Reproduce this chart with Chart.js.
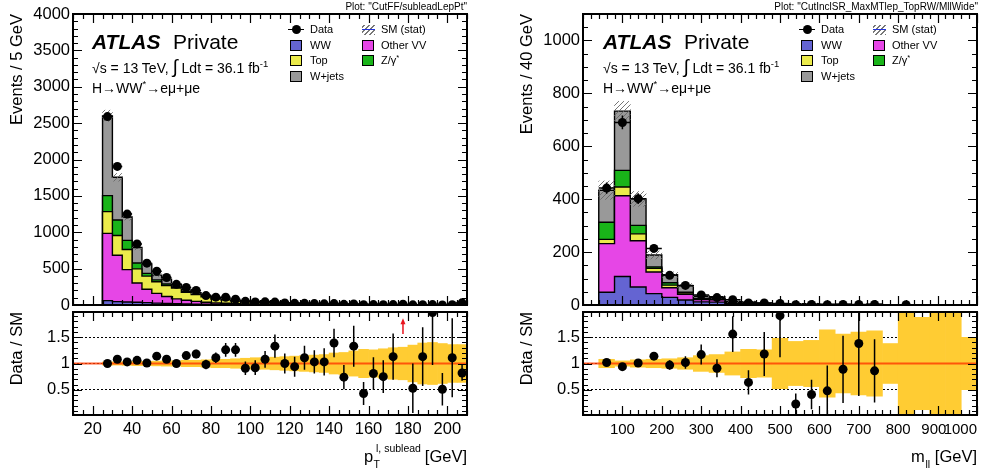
<!DOCTYPE html>
<html>
<head>
<meta charset="utf-8">
<title>H→WW* control plots</title>
<script src="https://cdn.jsdelivr.net/npm/chart.js@4.4.1/dist/chart.umd.min.js"></script>
<style>
  html, body { margin: 0; padding: 0; background: #fff; }
  #page { position: relative; width: 993px; height: 475px; overflow: hidden;
          font-family: "Liberation Sans", Arial, Helvetica, sans-serif; color: #000; }
  #page canvas { position: absolute; }
  .txt { position: absolute; white-space: nowrap; line-height: 1; }
  .sup { font-size: 0.68em; vertical-align: 0.6em; line-height: 0; }
  .box { position: absolute; width: 12px; height: 11px; border: 1px solid #000; box-sizing: border-box; }
</style>
</head>
<body>
<div id="page">
  <canvas id="mainL" width="480" height="310" style="left:0;top:0"></canvas>
  <canvas id="ratioL" width="480" height="165" style="left:0;top:310px"></canvas>
  <canvas id="mainR" width="480" height="310" style="left:510px;top:0"></canvas>
  <canvas id="ratioR" width="480" height="165" style="left:510px;top:310px"></canvas>
</div>
<script>
// ---------- subleading lepton pT, 5 GeV bins (last bin holds the overflow) ----------
const ptBinLow = [25, 30, 35, 40, 45, 50, 55, 60, 65, 70, 75, 80, 85, 90, 95, 100, 105, 110, 115, 120,
                  125, 130, 135, 140, 145, 150, 155, 160, 165, 170, 175, 180, 185, 190, 195, 200, 205];
const ptBinWidth = 5;
const ptWW      = [60, 46, 41, 37, 32, 26, 22, 18, 15, 12, 10, 8, 7, 5, 4, 4, 3, 3, 2, 2,
                   2, 2, 1, 1, 1, 1, 0.8, 0.7, 0.6, 0.5, 0.5, 0.4, 0.4, 0.3, 0.3, 0.3, 3];
const ptOtherVV = [925, 637, 445, 265, 185, 134, 95, 66, 50, 38, 28, 20, 17, 12, 10, 8, 7, 5, 5, 4,
                   4, 3, 3, 3, 2, 2, 1.7, 1.5, 1.3, 1.1, 1, 0.9, 0.8, 0.7, 0.6, 0.5, 8];
const ptTop     = [298, 272, 277, 195, 180, 160, 150, 150, 110, 92, 75, 55, 48, 37, 33, 27, 24, 18, 16, 15,
                   12, 10, 9, 8, 7, 6, 5, 4.3, 3.8, 3.3, 2.8, 2.5, 2.2, 1.9, 1.7, 1.5, 20];
const ptZgamma  = [220, 213, 126, 80, 38, 25, 22, 14, 10, 8, 6, 4, 4, 3, 3, 3, 2, 2, 2, 1,
                   1, 1, 1, 1, 1, 0.5, 0.5, 0.5, 0.4, 0.4, 0.3, 0.3, 0.2, 0.2, 0.2, 0.2, 2];
const ptWjets   = [1097, 587, 321, 213, 130, 65, 61, 36, 25, 18, 13, 10, 8, 6, 5, 4, 4, 2, 2, 2,
                   2, 2, 2, 1, 1, 0.5, 0.5, 0.5, 0.4, 0.3, 0.3, 0.2, 0.2, 0.2, 0.1, 0.1, 3];
const ptData    = [2590, 1905, 1250, 840, 575, 465, 378, 284, 242, 200, 129, 108, 106, 79, 50, 42, 43, 40, 27, 23,
                   23, 19, 16, 19, 9, 13, 4, 6, 5, 6, 11, 2, 4, 6, 1, 3, 30];
const ptDataErr = [51, 44, 35, 29, 24, 22, 19, 17, 16, 14, 11, 10, 10, 9, 7, 6, 7, 6, 5, 5,
                   5, 4, 4, 4, 3, 4, 2, 2, 2, 2, 3, 1, 2, 2, 1, 2, 5];
const ptRatio    = [1.00, 1.08, 1.03, 1.06, 1.01, 1.14, 1.08, 1.00, 1.15, 1.18, 0.98, 1.11, 1.26, 1.26, 0.91, 0.92, 1.08, 1.33, 1.00, 0.94,
                    1.11, 1.03, 1.03, 1.39, 0.74, 1.33, 0.43, 0.81, 0.75, 1.13, null, 0.53, 1.13, 1.97, 0.51, 1.11, 0.82];
const ptRatioErr = [0.02, 0.03, 0.03, 0.04, 0.04, 0.05, 0.06, 0.06, 0.07, 0.08, 0.09, 0.10, 0.13, 0.13, 0.13, 0.14, 0.16, 0.22, 0.19, 0.19,
                    0.23, 0.22, 0.26, 0.27, 0.23, 0.39, 0.22, 0.31, 0.31, 0.44, null, 0.47, 0.56, 1.0, 0.31, 0.75, 0.15];
const ptStatBand = [0.03, 0.03, 0.035, 0.04, 0.04, 0.045, 0.05, 0.05, 0.06, 0.06, 0.07, 0.08, 0.08, 0.09, 0.10, 0.11, 0.11, 0.12, 0.13, 0.14,
                    0.15, 0.16, 0.17, 0.20, 0.21, 0.24, 0.27, 0.26, 0.28, 0.30, 0.31, 0.35, 0.39, 0.40, 0.38, 0.36, 0.36];
const ptOffScale = [177.5];   // ratio above the panel, drawn as an arrow
const ptTicks    = [20, 40, 60, 80, 100, 120, 140, 160, 180, 200];
const ptEvtTicks = [0, 500, 1000, 1500, 2000, 2500, 3000, 3500, 4000];

// ---------- dilepton mass, 40 GeV bins ----------
const mllBinLow = [40, 80, 120, 160, 200, 240, 280, 320, 360, 400, 440, 480, 520, 560, 600, 640, 680, 720, 760, 800,
                   840, 880, 920, 960];
const mllBinWidth = 40;
const mllWW      = [48, 108, 68, 43, 29, 19, 12, 11, 5, 4.5, 2.5, 1.2, 1.6, 1.8, 0.8, 0.8, 0.6, 0.9, 0.5, 0, 0, 0, 0, 0];
const mllOtherVV = [184, 305, 175, 82, 36, 21, 9, 9, 4, 3.5, 2, 0.9, 1.3, 1.5, 0.6, 0.7, 0.4, 0.7, 0.4, 0, 0, 0, 0, 0];
const mllTop     = [16, 33, 26, 14, 10, 5, 3, 3, 1.5, 1.5, 0.8, 0.4, 0.6, 0.7, 0.3, 0.3, 0.2, 0.3, 0.1, 0, 0, 0, 0, 0];
const mllZgamma  = [65, 63, 32, 5, 9, 3, 1, 1, 0.5, 0.5, 0.4, 0.2, 0.3, 0.3, 0.1, 0.1, 0.1, 0.1, 0.1, 0, 0, 0, 0, 0];
const mllWjets   = [121, 224, 100, 45, 31, 25, 8, 7, 2, 2, 1, 0.4, 0.5, 0.6, 0.3, 0.3, 0.15, 0.3, 0.1, 0, 0, 0, 0, 0];
const mllData    = [442, 690, 402, 214, 112, 74, 38, 28, 20, 8, 8, 6, 1, 2, 1, 2, 2, 2, null, 1, null, null, null, null];
const mllDataErr = [21, 26, 20, 15, 11, 9, 6, 5, 4.5, 3, 3, 2.5, 1, 1.4, 1, 1.4, 1.4, 1.4, null, 1, null, null, null, null];
const mllRatio    = [1.02, 0.94, 1.01, 1.14, 0.97, 1.02, 1.17, 0.91, 1.56, 0.64, 1.18, 1.91, 0.23, 0.41, 0.48, 0.89, 1.38, 0.86,
                     null, null, null, null, null, null];
const mllRatioErr = [0.04, 0.04, 0.05, 0.07, 0.09, 0.12, 0.19, 0.17, 0.34, 0.23, 0.42, 0.79, 0.20, 0.28, 0.48, 0.64, 1.0, 0.60,
                     null, null, null, null, null, null];
const mllStatBand = [0.08, 0.05, 0.07, 0.08, 0.09, 0.11, 0.15, 0.17, 0.22, 0.27, 0.26, 0.48, 0.42, 0.44, 0.64, 0.56, 0.60, 0.62, 0.38, 1.0,
                     0.88, 1.0, 1.0, 0.5];
const mllTicks    = [100, 200, 300, 400, 500, 600, 700, 800, 900, 1000];
const mllEvtTicks = [0, 200, 400, 600, 800, 1000];

const ratioTicks = [0.5, 1, 1.5];

// process colours, bottom of the stack first
const COL = { WW: '#6464d2', OtherVV: '#e646e6', Top: '#ebeb4b', Zgamma: '#19b419', Wjets: '#999999' };
const BAND = '#ffcc33';
const FONT = '"Liberation Sans", Arial, Helvetica, sans-serif';
const TICK_FONT = { family: FONT, size: 16.5 };

Chart.defaults.font.family = FONT;
Chart.defaults.color = '#000';

// diagonal hatching for the MC stat. uncertainty
function hatchPattern() {
  const c = document.createElement('canvas');
  c.width = 5; c.height = 5;
  const g = c.getContext('2d');
  g.strokeStyle = '#666';
  g.lineWidth = 0.9;
  g.beginPath();
  g.moveTo(0, 5); g.lineTo(5, 0);
  g.moveTo(-2.5, 2.5); g.lineTo(2.5, -2.5);
  g.moveTo(2.5, 7.5); g.lineTo(7.5, 2.5);
  g.stroke();
  return g.createPattern(c, 'repeat');
}
const HATCH = hatchPattern();

// ATLAS style frame: thick box with inward ticks on all four sides
const atlasFrame = {
  id: 'atlasFrame',
  afterDraw(chart, args, o) {
    const { ctx, chartArea: a, scales: { x, y } } = chart;
    const minorVals = (scale, step) => {
      const out = [];
      const k0 = Math.ceil(scale.min / step - 1e-6), k1 = Math.floor(scale.max / step + 1e-6);
      for (let k = k0; k <= k1; k++) out.push(k * step);
      return out;
    };
    ctx.save();
    ctx.strokeStyle = '#000';
    ctx.lineWidth = 1.2;
    ctx.beginPath();
    const xt = (vals, len) => vals.forEach(v => {
      const px = Math.round(x.getPixelForValue(v)) + 0.5;
      ctx.moveTo(px, a.bottom); ctx.lineTo(px, a.bottom - len);
      ctx.moveTo(px, a.top); ctx.lineTo(px, a.top + len);
    });
    const yt = (vals, len) => vals.forEach(v => {
      const py = Math.round(y.getPixelForValue(v)) + 0.5;
      ctx.moveTo(a.left, py); ctx.lineTo(a.left + len, py);
      ctx.moveTo(a.right, py); ctx.lineTo(a.right - len, py);
    });
    xt(minorVals(x, o.xMinor), 5);
    xt(o.xMajor, 9);
    yt(minorVals(y, o.yMinor), 5);
    yt(o.yMajor, 9);
    ctx.stroke();
    ctx.lineWidth = 2;
    ctx.strokeRect(a.left, a.top, a.right - a.left, a.bottom - a.top);
    ctx.restore();
  }
};

// vertical (and optional horizontal) error bars, drawn just under the markers
const errorBars = {
  id: 'errorBars',
  beforeDatasetDraw(chart, args) {
    const ds = chart.data.datasets[args.index];
    if (!ds.yErr) return;
    const { ctx, chartArea: a, scales: { x, y } } = chart;
    ctx.save();
    ctx.beginPath();
    ctx.rect(a.left, a.top, a.right - a.left, a.bottom - a.top);
    ctx.clip();
    ctx.strokeStyle = '#000';
    ctx.lineWidth = 1.5;
    ctx.beginPath();
    ds.data.forEach((p, i) => {
      if (p.y == null || ds.yErr[i] == null) return;
      const px = x.getPixelForValue(p.x), py = y.getPixelForValue(p.y);
      ctx.moveTo(px, y.getPixelForValue(p.y - ds.yErr[i]));
      ctx.lineTo(px, y.getPixelForValue(p.y + ds.yErr[i]));
      if (ds.xErr) {
        ctx.moveTo(x.getPixelForValue(p.x - ds.xErr), py);
        ctx.lineTo(x.getPixelForValue(p.x + ds.xErr), py);
      }
    });
    ctx.stroke();
    ctx.restore();
  }
};

// red arrows for ratio points above the panel
const overflowArrows = {
  id: 'overflowArrows',
  afterDatasetsDraw(chart, args, o) {
    if (!o.at || !o.at.length) return;
    const { ctx, scales: { x, y } } = chart;
    ctx.save();
    ctx.strokeStyle = ctx.fillStyle = '#e8141e';
    ctx.lineWidth = 1.5;
    o.at.forEach(v => {
      const px = x.getPixelForValue(v);
      const y0 = y.getPixelForValue(o.from), y1 = y.getPixelForValue(o.to);
      ctx.beginPath(); ctx.moveTo(px, y0); ctx.lineTo(px, y1 + 4); ctx.stroke();
      ctx.beginPath(); ctx.moveTo(px, y1); ctx.lineTo(px - 2.5, y1 + 6); ctx.lineTo(px + 2.5, y1 + 6);
      ctx.closePath(); ctx.fill();
    });
    ctx.restore();
  }
};

// keep the plot frame where the layout padding puts it
function noOverhang(s) {
  s.paddingTop = 0; s.paddingBottom = 0; s.paddingLeft = 0; s.paddingRight = 0;
}

// cumulative step outlines, one filled line per process
function stackDatasets(low, width, comps) {
  const sums = low.map(() => 0);
  const end = low[low.length - 1] + width;
  return comps.map(([label, vals, colour]) => {
    vals.forEach((v, i) => { sums[i] += v; });
    const pts = [{ x: low[0], y: 0 }];
    low.forEach((lo, i) => pts.push({ x: lo, y: sums[i] }));
    pts.push({ x: end, y: sums[sums.length - 1] }, { x: end, y: 0 });
    return {
      type: 'line', label, data: pts, stepped: true, fill: 'origin',
      backgroundColor: colour, borderColor: '#000', borderWidth: 1.4,
      pointRadius: 0, order: 5
    };
  });
}

function statHatch(low, width, comps, band) {
  return {
    type: 'bar', label: 'SM (stat)',
    data: low.map((lo, i) => {
      const t = comps.reduce((s, c) => s + c[1][i], 0);
      return { x: lo + width / 2, y: [t * (1 - band[i]), t * (1 + band[i])] };
    }),
    backgroundColor: HATCH, borderWidth: 0, barPercentage: 1, categoryPercentage: 1, order: 2
  };
}

function dataPoints(low, width, vals, errs, withX) {
  return {
    type: 'scatter', label: 'Data',
    data: low.map((lo, i) => ({ x: lo + width / 2, y: vals[i] })),
    yErr: errs, xErr: withX ? width / 2 : 0,
    pointRadius: 4.5, pointBackgroundColor: '#000', pointBorderWidth: 0, order: 1
  };
}

function yAxis(min, max, ticks, title) {
  return {
    type: 'linear', min, max,
    afterFit(s) { s.width = 73; noOverhang(s); },
    afterBuildTicks(s) { s.ticks = ticks.map(v => ({ value: v })); },
    grid: { display: false, drawTicks: false },
    border: { display: false },
    ticks: { font: TICK_FONT, color: '#000', padding: 3, callback: v => String(v) },
    title: { display: true, text: title, align: 'end', font: TICK_FONT, color: '#000', padding: { top: 8, bottom: 0 } }
  };
}

function mainChart(id, low, width, comps, band, data, dataErr, xMin, xMax, yMax, evtTicks, yTitle, xTicks, xMinor, yMinor) {
  new Chart(document.getElementById(id), {
    type: 'line',
    data: {
      datasets: [
        ...stackDatasets(low, width, comps),
        statHatch(low, width, comps, band),
        dataPoints(low, width, data, dataErr, true)
      ]
    },
    options: {
      responsive: false, animation: false, devicePixelRatio: 1,
      layout: { autoPadding: false, padding: { top: 14, right: 13, bottom: 5, left: 0 } },
      scales: {
        x: { type: 'linear', min: xMin, max: xMax, offset: false, display: false },
        y: yAxis(0, yMax, evtTicks, yTitle)
      },
      plugins: {
        legend: { display: false }, tooltip: { enabled: false },
        atlasFrame: { xMajor: xTicks, xMinor, yMajor: evtTicks, yMinor }
      }
    },
    plugins: [atlasFrame, errorBars]
  });
}

// lastInside: the final tick sits on the frame edge, so its label is kept inside the frame
// and the axis labels are set a little smaller to leave room for it
function ratioChart(id, low, width, band, ratio, ratioErr, xMin, xMax, xTicks, xMinor, arrows, lastInside) {
  const last = xTicks[xTicks.length - 1], prev = xTicks[xTicks.length - 2];
  new Chart(document.getElementById(id), {
    type: 'line',
    data: {
      datasets: [
        {
          type: 'bar', label: 'MC stat',
          data: low.map((lo, i) => ({ x: lo + width / 2, y: [1 - band[i], 1 + band[i]] })),
          backgroundColor: BAND, borderWidth: 0, barPercentage: 1, categoryPercentage: 1, order: 3
        },
        {
          type: 'line', label: 'unity',
          data: [{ x: xMin, y: 1 }, { x: xMax, y: 1 }],
          borderColor: 'rgba(255, 60, 0, 0.82)', borderWidth: 2, pointRadius: 0, fill: false, order: 2
        },
        dataPoints(low, width, ratio, ratioErr, false)
      ]
    },
    options: {
      responsive: false, animation: false, devicePixelRatio: 1,
      layout: { autoPadding: false, padding: { top: 2, right: 13, bottom: 0, left: 0 } },
      scales: {
        x: {
          type: 'linear', min: xMin, max: xMax, offset: false,
          afterFit(s) { s.height = 60; noOverhang(s); },
          afterBuildTicks(s) {
            const t = xTicks.map(v => ({ value: v }));
            s.ticks = lastInside ? [{ value: xMin }, ...t] : t;
          },
          grid: { display: false, drawTicks: false },
          border: { display: false },
          ticks: {
            font: lastInside ? { family: FONT, size: 15 } : TICK_FONT,
            color: '#000', padding: lastInside ? 6 : 5, autoSkip: false, maxRotation: 0,
            align: lastInside ? 'inner' : 'center',
            callback: v => {
              if (!lastInside) return String(v);
              if (v === xMin) return '';
              return v === prev ? String(v) + '\u2002' : String(v);
            }
          }
        },
        y: Object.assign(yAxis(0.02, 1.98, ratioTicks, 'Data / SM'), {
          grid: { display: true, drawTicks: false, color: '#000', lineWidth: 1 },
          border: { display: false, dash: [2, 2] }
        })
      },
      plugins: {
        legend: { display: false }, tooltip: { enabled: false },
        atlasFrame: { xMajor: xTicks, xMinor, yMajor: ratioTicks, yMinor: 0.1 },
        overflowArrows: { at: arrows, from: 1.56, to: 1.86 }
      }
    },
    plugins: [atlasFrame, errorBars, overflowArrows]
  });
}

const ptComps = [['WW', ptWW, COL.WW], ['Other VV', ptOtherVV, COL.OtherVV], ['Top', ptTop, COL.Top],
                 ['Z/γ*', ptZgamma, COL.Zgamma], ['W+jets', ptWjets, COL.Wjets]];
const mllComps = [['WW', mllWW, COL.WW], ['Other VV', mllOtherVV, COL.OtherVV], ['Top', mllTop, COL.Top],
                  ['Z/γ*', mllZgamma, COL.Zgamma], ['W+jets', mllWjets, COL.Wjets]];

mainChart('mainL', ptBinLow, ptBinWidth, ptComps, ptStatBand, ptData, ptDataErr,
          10, 210, 4000, ptEvtTicks, 'Events / 5 GeV', ptTicks, 5, 100);
ratioChart('ratioL', ptBinLow, ptBinWidth, ptStatBand, ptRatio, ptRatioErr, 10, 210, ptTicks, 5, ptOffScale, false);
mainChart('mainR', mllBinLow, mllBinWidth, mllComps, mllStatBand, mllData, mllDataErr,
          0, 1000, 1100, mllEvtTicks, 'Events / 40 GeV', mllTicks, 20, 50);
ratioChart('ratioR', mllBinLow, mllBinWidth, mllStatBand, mllRatio, mllRatioErr, 0, 1000, mllTicks, 20, [], true);

// ---------- labels, legends and axis titles ----------
const page = document.getElementById('page');
function put(html, x, base, size, opt = {}) {
  const d = document.createElement('div');
  d.className = 'txt';
  d.innerHTML = html;
  d.style.fontSize = size + 'px';
  d.style.top = (base - 0.8465 * size) + 'px';
  if (opt.right) d.style.right = (993 - x) + 'px'; else d.style.left = x + 'px';
  if (opt.style) Object.assign(d.style, opt.style);
  page.appendChild(d);
  return d;
}
function el(css) {
  const d = document.createElement('div');
  d.style.position = 'absolute';
  Object.assign(d.style, css);
  page.appendChild(d);
  return d;
}

function panelText(ox, plotName) {
  put('Plot: "' + plotName + '"', ox + 467, 10, 10, { right: true });
  put('ATLAS', ox + 92, 49, 21, { style: { fontWeight: 'bold', fontStyle: 'italic' } });
  put('Private', ox + 173, 49, 21);
  put('√s = 13 TeV, <span style="font-size:19px;line-height:0">∫</span> Ldt = 36.1 fb<span class="sup">-1</span>', ox + 92, 72.5, 14);
  put('H→WW<span class="sup">*</span>→eμ+μe', ox + 92, 93, 14);

  // legend, two columns
  const rows = [29.5, 45, 60.5, 76];
  el({ left: (ox + 288) + 'px', top: (rows[0] - 0.75) + 'px', width: '16px', height: '1.5px', background: '#000' });
  el({ left: (ox + 291.5) + 'px', top: (rows[0] - 4.5) + 'px', width: '9px', height: '9px', borderRadius: '50%', background: '#000' });
  put('Data', ox + 310, rows[0] + 4, 11);
  [['WW', COL.WW], ['Top', COL.Top], ['W+jets', COL.Wjets]].forEach(([t, c], k) => {
    const b = el({ left: (ox + 290) + 'px', top: (rows[k + 1] - 5.5) + 'px' });
    b.className = 'box'; b.style.background = c;
    put(t, ox + 310, rows[k + 1] + 4, 11);
  });
  el({ left: (ox + 362) + 'px', top: (rows[0] - 5) + 'px', width: '13px', height: '10px',
       background: 'repeating-linear-gradient(-45deg, #777 0 1px, transparent 1px 3.5px)' });
  el({ left: (ox + 362) + 'px', top: (rows[0] - 0.5) + 'px', width: '13px', height: '1px', background: '#2233dd' });
  put('SM (stat)', ox + 381, rows[0] + 4, 11);
  [['Other VV', COL.OtherVV], ['Z/γ<span class="sup">*</span>', COL.Zgamma]].forEach(([t, c], k) => {
    const b = el({ left: (ox + 362) + 'px', top: (rows[k + 1] - 5.5) + 'px' });
    b.className = 'box'; b.style.background = c;
    put(t, ox + 381, rows[k + 1] + 4, 11);
  });
}
panelText(0, 'CutFF/subleadLepPt');
panelText(511, 'CutInclSR_MaxMTlep_TopRW/MllWide');

// x axis titles
put('p', 364, 462, 16.5);
put('T', 373.5, 467.5, 10.5);
put('l, sublead', 376, 452, 10.5);
put('[GeV]', 467, 462, 16.5, { right: true });
put('m', 911, 462, 16.5);
put('ll', 925.5, 467.5, 10.5);
put('[GeV]', 977, 462, 16.5, { right: true });
</script>
</body>
</html>
